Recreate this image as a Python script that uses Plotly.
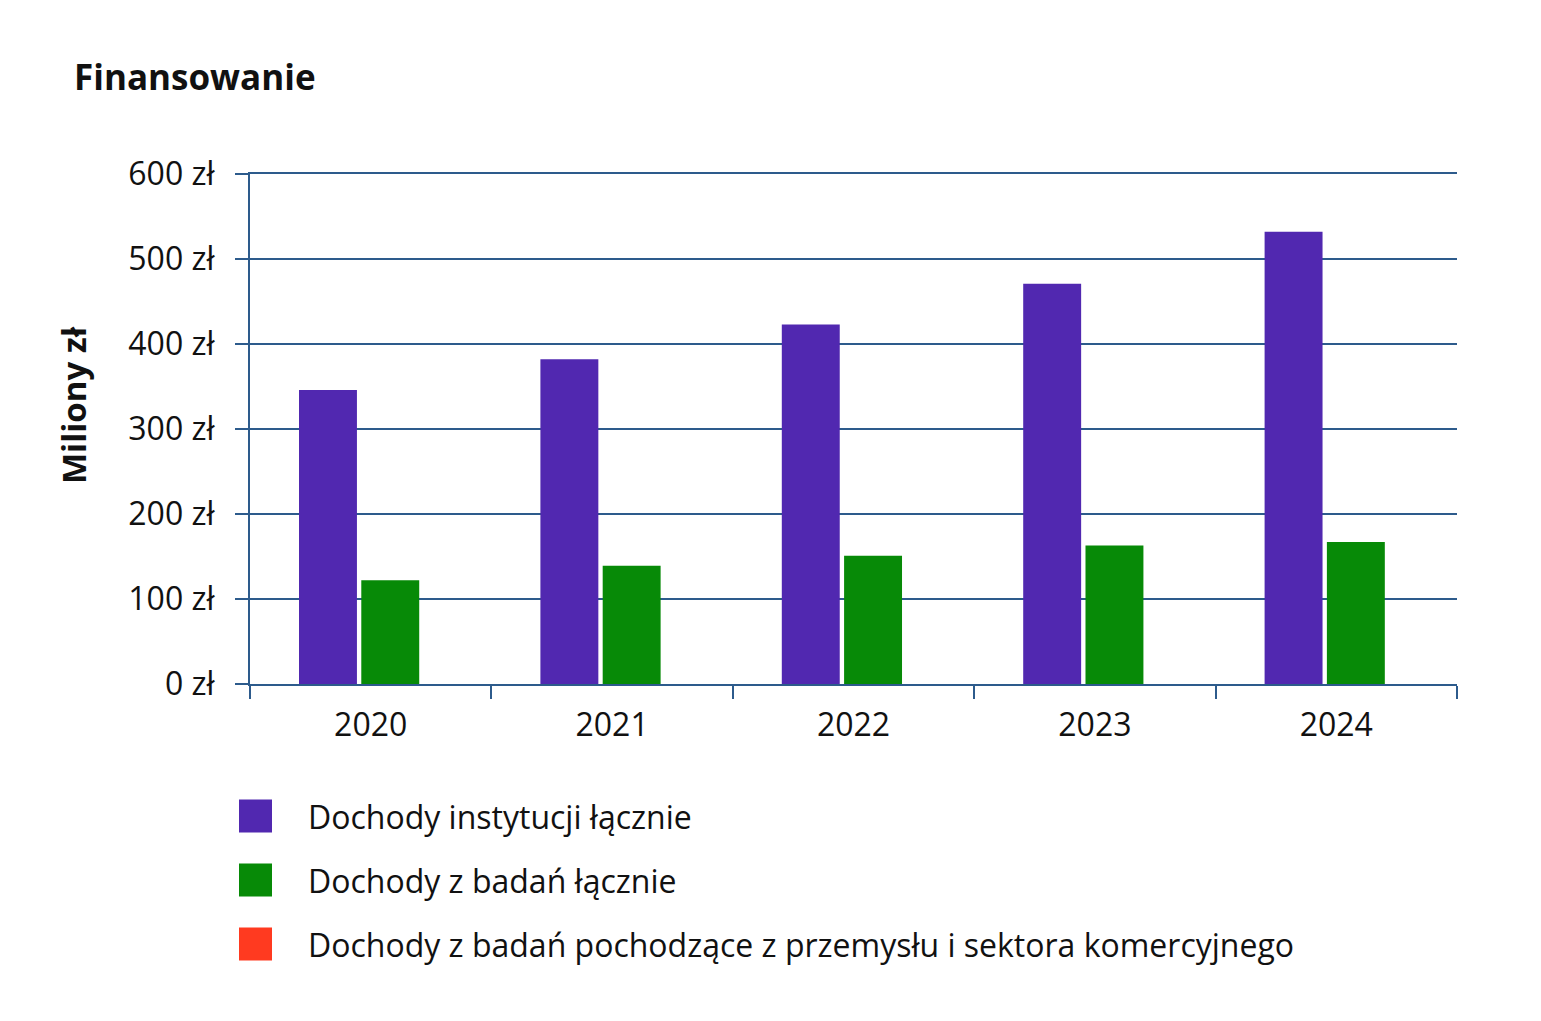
import plotly.graph_objects as go

# ---- data ----
years = ["2020", "2021", "2022", "2023", "2024"]
dochody_instytucji = [346, 382, 423, 471, 532]
dochody_badan = [122, 139, 151, 163, 167]
dochody_przemysl = [0, 0, 0, 0, 0]  # not visible in the reference

series_names = [
    "Dochody instytucji łącznie",
    "Dochody z badań łącznie",
    "Dochody z badań pochodzące z przemysłu i sektora komercyjnego",
]
series_values = [dochody_instytucji, dochody_badan, dochody_przemysl]
series_colors = ["#5128B0", "#078A07", "#FF3A20"]
bar_offsets = [-0.297, -0.039, 0.218]

y_tickvals = [0, 100, 200, 300, 400, 500, 600]
y_ticktext = [f"{v} zł" for v in y_tickvals]

FONT = "Open Sans, Noto Sans, sans-serif"
AXIS_COLOR = "#2D5B8C"
TEXT_COLOR = "#111111"

W, H = 1541, 1021
L, R, T, B = 250, 84, 174, 337
PW, PH = W - L - R, H - T - B


def px_x(p):
    return (p - L) / PW


def px_y(p):
    return (H - B - p) / PH


fig = go.Figure()
for name, vals, col, off in zip(series_names, series_values, series_colors, bar_offsets):
    fig.add_trace(go.Bar(
        x=years, y=vals, name=name,
        marker=dict(color=col, line=dict(width=0)),
        width=0.24, offset=off, showlegend=False,
    ))

# custom legend with large square swatches
shapes = []
annotations = []
legend_rows = [816, 880, 944]
for name, col, yc in zip(series_names, series_colors, legend_rows):
    shapes.append(dict(
        type="rect", xref="paper", yref="paper",
        x0=px_x(239), x1=px_x(272), y0=px_y(yc - 16.5), y1=px_y(yc + 16.5),
        fillcolor=col, line=dict(width=0),
    ))
    annotations.append(dict(
        xref="paper", yref="paper", x=px_x(306), y=px_y(yc),
        xanchor="left", yanchor="middle", text=name, showarrow=False,
        font=dict(family=FONT, size=32, color=TEXT_COLOR),
    ))

# y-axis title
annotations.append(dict(
    xref="paper", yref="paper", x=px_x(73), y=px_y(405),
    xanchor="center", yanchor="middle", text="<b>Miliony zł</b>", textangle=-90,
    showarrow=False, font=dict(family=FONT, size=33, color=TEXT_COLOR),
))

fig.update_layout(
    width=W, height=H,
    margin=dict(l=L, r=R, t=T, b=B, autoexpand=False),
    paper_bgcolor="white", plot_bgcolor="white",
    barmode="overlay",
    title=dict(
        text="<b>Finansowanie</b>", x=74 / W, xanchor="left", xref="container",
        y=1 - 78 / H, yanchor="middle", yref="container",
        font=dict(family=FONT, size=35, color=TEXT_COLOR),
    ),
    shapes=shapes,
    annotations=annotations,
    showlegend=False,
)

fig.update_xaxes(
    type="category",
    showline=True, linecolor=AXIS_COLOR, linewidth=2, mirror=True,
    ticks="outside", tickson="boundaries", ticklen=13, tickwidth=2, tickcolor=AXIS_COLOR,
    showgrid=False,
    tickfont=dict(family=FONT, size=32, color=TEXT_COLOR),
    ticklabelstandoff=12,
)
fig.update_yaxes(
    range=[0, 600],
    tickvals=y_tickvals, ticktext=y_ticktext,
    showline=True, linecolor=AXIS_COLOR, linewidth=2,
    ticks="outside", ticklen=13, tickwidth=2, tickcolor=AXIS_COLOR,
    showgrid=True, gridcolor=AXIS_COLOR, gridwidth=2,
    zeroline=False,
    tickfont=dict(family=FONT, size=32, color=TEXT_COLOR),
    ticklabelstandoff=14,
)

fig.write_html("out.html")
